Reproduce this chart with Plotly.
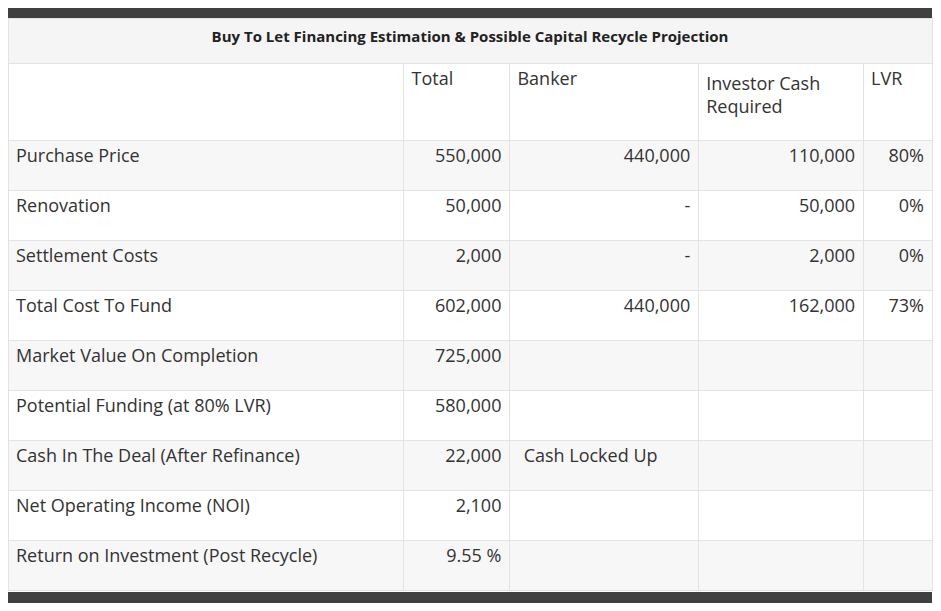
import plotly.graph_objects as go

title = "Buy To Let Financing Estimation & Possible Capital Recycle Projection"
columns = ["", "Total", "Banker", "Investor Cash<br>Required", "LVR"]
labels = ["Purchase Price", "Renovation", "Settlement Costs", "Total Cost To Fund",
          "Market Value On Completion", "Potential Funding (at 80% LVR)",
          "Cash In The Deal (After Refinance)", "Net Operating Income (NOI)",
          "Return on Investment (Post Recycle)"]
total = ["550,000", "50,000", "2,000", "602,000", "725,000", "580,000", "22,000", "2,100", "9.55 %"]
banker = ["440,000", "-", "-", "440,000", "", "",
          "Cash\u00a0Locked\u00a0Up" + "\u00a0" * 7, "", ""]
investor = ["110,000", "50,000", "2,000", "162,000", "", "", "", "", ""]
lvr = ["80%", "0%", "0%", "73%", "", "", "", "", ""]

W, H = 941, 611
OFF = 8  # page body margin shifts the plot by 8px


def px(p):
    return max(0, (p - OFF) / W)


def py(p):
    return 1 - (p - OFF) / H


x0, x1 = px(7), px(932)
line = "#e3e3e3"
txt = "#333333"
row_fill = ["#f7f7f7" if i % 2 == 0 else "white" for i in range(len(labels))]

fig = go.Figure()
fig.add_trace(go.Table(
    domain=dict(x=[x0, x1], y=[py(64), py(18)]),
    header=dict(values=["<b>" + title + "</b>"], height=45, align="center",
                fill_color="#f5f5f5", line_color=line,
                font=dict(family="Open Sans", size=15, color="#222222")),
    cells=dict(values=[[]], height=0, line_color=line),
))
fig.add_trace(go.Table(
    domain=dict(x=[x0, x1], y=[py(592), py(63)]),
    columnwidth=[396, 106, 189, 165, 69],
    header=dict(values=columns, height=77, align="left", fill_color="white",
                line_color=line, font=dict(family="Open Sans", size=18, color=txt)),
    cells=dict(values=[labels, total, banker, investor, lvr], height=50,
               align=["left", "right", "right", "right", "right"],
               fill_color=[row_fill] * 5, line_color=line,
               font=dict(family="Open Sans", size=18, color=txt)),
))
fig.update_layout(
    width=W, height=H, margin=dict(l=0, r=0, t=0, b=0),
    paper_bgcolor="white",
    shapes=[
        dict(type="rect", xref="paper", yref="paper", x0=x0, x1=x1, y0=py(18), y1=py(8),
             fillcolor="#404040", line_width=0),
        dict(type="rect", xref="paper", yref="paper", x0=x0, x1=x1, y0=py(603), y1=py(592),
             fillcolor="#404040", line_width=0),
    ],
)
fig.write_html("out.html")
